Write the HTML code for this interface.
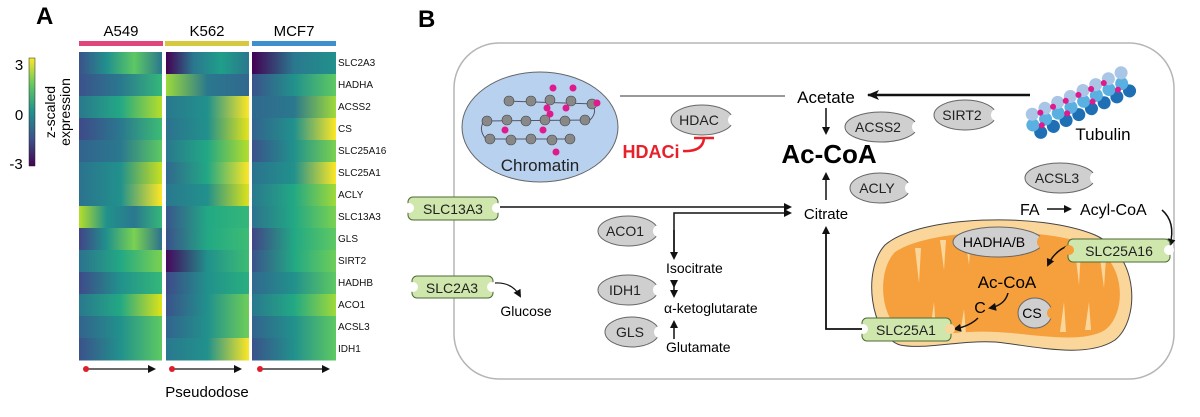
<!DOCTYPE html>
<html><head><meta charset="utf-8"><style>
html,body{margin:0;padding:0;background:#fff;}
svg{display:block;font-family:"Liberation Sans",Arial,sans-serif;}
</style></head><body>
<svg width="1200" height="417" viewBox="0 0 1200 417" xmlns="http://www.w3.org/2000/svg">
<defs>
<linearGradient id="cb" x1="0" y1="1" x2="0" y2="0">
<stop offset="0" stop-color="#440154"/><stop offset="0.25" stop-color="#3b528b"/><stop offset="0.5" stop-color="#21918c"/><stop offset="0.75" stop-color="#5ec962"/><stop offset="1" stop-color="#fde725"/></linearGradient>
<marker id="ah" markerWidth="8" markerHeight="8" refX="6" refY="4" orient="auto" markerUnits="userSpaceOnUse"><path d="M0,0 L8,4 L0,8 Z" fill="#111"/></marker>
<marker id="ahs" markerWidth="12" markerHeight="10" refX="11" refY="5" orient="auto" markerUnits="userSpaceOnUse"><path d="M0,0 L12,5 L0,10 L3,5 Z" fill="#111"/></marker>
</defs>
<text x="36" y="24" font-size="24" font-weight="bold">A</text>
<text x="418" y="27" font-size="24" font-weight="bold">B</text>
<text x="121" y="36" font-size="15" text-anchor="middle">A549</text>
<text x="207" y="36" font-size="15" text-anchor="middle">K562</text>
<text x="294" y="36" font-size="15" text-anchor="middle">MCF7</text>
<rect x="79" y="41" width="84" height="5" fill="#e0457b"/>
<rect x="165" y="41" width="84" height="5" fill="#d7c93d"/>
<rect x="252" y="41" width="84" height="5" fill="#3e8fce"/>
<rect x="29" y="58" width="6" height="108" fill="url(#cb)" stroke="#222" stroke-width="0.5"/>
<text x="19" y="70" font-size="15" text-anchor="middle">3</text>
<text x="19" y="120" font-size="15" text-anchor="middle">0</text>
<text x="16" y="169" font-size="15" text-anchor="middle">-3</text>
<text transform="translate(55,112) rotate(-90)" font-size="14" text-anchor="middle">z-scaled</text>
<text transform="translate(70,112) rotate(-90)" font-size="14" text-anchor="middle">expression</text>
<g id="hm"></g>
<g font-size="10" fill="#111">
<text x="338" y="66">SLC2A3</text><text x="338" y="88">HADHA</text><text x="338" y="110">ACSS2</text><text x="338" y="132">CS</text><text x="338" y="154">SLC25A16</text><text x="338" y="176">SLC25A1</text><text x="338" y="198">ACLY</text><text x="338" y="220">SLC13A3</text><text x="338" y="242">GLS</text><text x="338" y="264">SIRT2</text><text x="338" y="286">HADHB</text><text x="338" y="308">ACO1</text><text x="338" y="330">ACSL3</text><text x="338" y="352">IDH1</text>
</g>
<g stroke="#111" stroke-width="1.3">
<line x1="86" y1="369" x2="154" y2="369" marker-end="url(#ah)"/>
<line x1="172" y1="369" x2="240" y2="369" marker-end="url(#ah)"/>
<line x1="260" y1="369" x2="328" y2="369" marker-end="url(#ah)"/>
</g>
<circle cx="86" cy="369" r="3" fill="#e01e2a"/><circle cx="172" cy="369" r="3" fill="#e01e2a"/><circle cx="260" cy="369" r="3" fill="#e01e2a"/>
<text x="207" y="397" font-size="15" text-anchor="middle">Pseudodose</text>

<rect x="454" y="43" width="720" height="336" rx="45" fill="#fff" stroke="#b5b5b5" stroke-width="1.5"/>
<ellipse cx="540" cy="127" rx="78" ry="55" fill="#b7d1ef" stroke="#666" stroke-width="1"/>
<g fill="none" stroke="#556" stroke-width="1"><path d="M505,101 L595,104 M484,121 L590,120 M486,139 L575,139 M484,121 Q478,130 486,139 M592,104 Q598,112 590,120"/></g>
<g fill="#888" stroke="#444" stroke-width="0.6">
<circle cx="509" cy="101" r="5"/><circle cx="531" cy="101" r="5"/><circle cx="550" cy="100" r="5"/><circle cx="571" cy="101" r="5"/><circle cx="592" cy="104" r="5"/>
<circle cx="487" cy="121" r="5"/><circle cx="507" cy="120" r="5"/><circle cx="526" cy="121" r="5"/><circle cx="545" cy="120" r="5"/><circle cx="565" cy="121" r="5"/><circle cx="585" cy="120" r="5"/>
<circle cx="490" cy="139" r="5"/><circle cx="511" cy="140" r="5"/><circle cx="531" cy="139" r="5"/><circle cx="552" cy="140" r="5"/><circle cx="570" cy="139" r="5"/>
</g>
<g fill="#e0198c"><circle cx="553" cy="88" r="3.5"/><circle cx="573" cy="88" r="3.5"/><circle cx="597" cy="103" r="3.5"/><circle cx="547" cy="108" r="3.5"/><circle cx="566" cy="108" r="3.5"/><circle cx="550" cy="114" r="3.5"/><circle cx="505" cy="130" r="3.5"/><circle cx="543" cy="130" r="3.5"/><circle cx="556" cy="152" r="3.5"/></g>
<text x="540" y="171" font-size="17" text-anchor="middle" fill="#222">Chromatin</text>
<line x1="620" y1="96" x2="785" y2="96" stroke="#333" stroke-width="1"/>
<text x="826" y="103" font-size="17" text-anchor="middle">Acetate</text>
<line x1="1030" y1="95" x2="868" y2="95" stroke="#111" stroke-width="2.5" marker-end="url(#ahs)"/>
<line x1="826" y1="108" x2="826" y2="133" stroke="#111" stroke-width="1.5" marker-end="url(#ah)"/>
<text x="829" y="163" font-size="26" font-weight="bold" text-anchor="middle">Ac-CoA</text>
<line x1="826" y1="200" x2="826" y2="174" stroke="#111" stroke-width="1.5" marker-end="url(#ah)"/>
<text x="826" y="219" font-size="15" text-anchor="middle">Citrate</text>
<text x="651" y="158" font-size="18" font-weight="bold" fill="#e8202a" text-anchor="middle">HDACi</text>
<path d="M683,151 Q703,152 704,138 M694,138 L714,138" stroke="#e8202a" stroke-width="2.5" fill="none"/>
<g font-size="14" fill="#222" text-anchor="middle">
<ellipse cx="702" cy="120" rx="31" ry="15" fill="#cfcfcf" stroke="#666"/><circle cx="734" cy="120" r="6" fill="#fff"/><text x="699" y="125">HDAC</text>
<ellipse cx="881" cy="127" rx="36" ry="15" fill="#cfcfcf" stroke="#666"/><circle cx="918" cy="127" r="6" fill="#fff"/><text x="878" y="132">ACSS2</text>
<ellipse cx="965" cy="115" rx="31" ry="15" fill="#cfcfcf" stroke="#666"/><circle cx="997" cy="115" r="6" fill="#fff"/><text x="962" y="120">SIRT2</text>
<ellipse cx="880" cy="188" rx="30" ry="15" fill="#cfcfcf" stroke="#666"/><circle cx="911" cy="188" r="6" fill="#fff"/><text x="877" y="193">ACLY</text>
<ellipse cx="1060" cy="178" rx="35" ry="15" fill="#cfcfcf" stroke="#666"/><circle cx="1096" cy="178" r="6" fill="#fff"/><text x="1057" y="183">ACSL3</text>
<ellipse cx="628" cy="231" rx="30" ry="15" fill="#cfcfcf" stroke="#666"/><circle cx="659" cy="231" r="6" fill="#fff"/><text x="625" y="236">ACO1</text>
<ellipse cx="628" cy="290" rx="30" ry="15" fill="#cfcfcf" stroke="#666"/><circle cx="659" cy="290" r="6" fill="#fff"/><text x="625" y="295">IDH1</text>
<ellipse cx="632" cy="332" rx="27" ry="15" fill="#cfcfcf" stroke="#666"/><circle cx="660" cy="332" r="6" fill="#fff"/><text x="630" y="337">GLS</text>
</g>
<g transform="translate(1080,103) rotate(-25)">
<g fill="#1f6fb5"><circle cx="-48" cy="10" r="6.5"/><circle cx="-34" cy="10" r="6.5"/><circle cx="-20" cy="10" r="6.5"/><circle cx="-6" cy="10" r="6.5"/><circle cx="8" cy="10" r="6.5"/><circle cx="22" cy="10" r="6.5"/><circle cx="36" cy="10" r="6.5"/><circle cx="50" cy="10" r="6.5"/></g>
<g fill="#5ab0e0"><circle cx="-52" cy="0" r="6.5"/><circle cx="-38" cy="0" r="6.5"/><circle cx="-24" cy="0" r="6.5"/><circle cx="-10" cy="0" r="6.5"/><circle cx="4" cy="0" r="6.5"/><circle cx="18" cy="0" r="6.5"/><circle cx="32" cy="0" r="6.5"/><circle cx="46" cy="0" r="6.5"/></g>
<g fill="#a9c6e6"><circle cx="-48" cy="-10" r="6.5"/><circle cx="-34" cy="-10" r="6.5"/><circle cx="-20" cy="-10" r="6.5"/><circle cx="-6" cy="-10" r="6.5"/><circle cx="8" cy="-10" r="6.5"/><circle cx="22" cy="-10" r="6.5"/><circle cx="36" cy="-10" r="6.5"/><circle cx="50" cy="-10" r="6.5"/></g>
<g fill="#e0198c"><circle cx="-40" cy="-8" r="3"/><circle cx="-26" cy="-8" r="3"/><circle cx="-12" cy="-8" r="3"/><circle cx="2" cy="-8" r="3"/><circle cx="16" cy="-8" r="3"/><circle cx="30" cy="-8" r="3"/><circle cx="-44" cy="4" r="3"/><circle cx="-16" cy="4" r="3"/><circle cx="12" cy="4" r="3"/><circle cx="40" cy="4" r="3"/></g>
</g>
<text x="1103" y="140" font-size="17" text-anchor="middle">Tubulin</text>
<text x="1020" y="215" font-size="16">FA</text>
<line x1="1047" y1="209" x2="1070" y2="209" stroke="#111" stroke-width="1.5" marker-end="url(#ah)"/>
<text x="1080" y="215" font-size="16">Acyl-CoA</text>
<path d="M1162,210 Q1176,222 1170,245" stroke="#111" stroke-width="1.5" fill="none" marker-end="url(#ah)"/>
<path d="M885,245 C920,215 1040,212 1095,235 C1140,255 1140,320 1115,340 C1085,360 1030,345 995,342 C960,340 925,350 900,345 C870,335 862,270 885,245 Z" fill="#fbd69b" stroke="#444" stroke-width="1"/>
<path d="M895,252 C930,228 1040,226 1090,245 C1128,262 1126,315 1105,330 C1080,345 1030,333 995,332 C960,330 930,338 905,333 C880,322 876,272 895,252 Z" fill="#f6a03d"/>
<g fill="#fbd69b"><path d="M915,248 l6,0 l-2,35 z"/><path d="M940,240 l6,0 l-2,30 z"/><path d="M965,237 l6,0 l-2,28 z"/><path d="M1075,250 l6,0 l-2,35 z"/><path d="M1100,258 l6,0 l-2,30 z"/><path d="M930,332 l6,0 l-2,-30 z"/><path d="M1060,332 l6,0 l-2,-30 z"/><path d="M1085,330 l6,0 l-2,-28 z"/><path d="M960,334 l6,0 l-2,-25 z"/></g>
<ellipse cx="998" cy="242" rx="45" ry="15" fill="#cfcfcf" stroke="#666"/><circle cx="1044" cy="242" r="7" fill="#f6a03d"/>
<text x="994" y="247" font-size="14" text-anchor="middle">HADHA/B</text>
<ellipse cx="1035" cy="313" rx="17" ry="15" fill="#cfcfcf" stroke="#666"/><circle cx="1053" cy="313" r="6" fill="#f6a03d"/>
<text x="1032" y="318" font-size="14" text-anchor="middle">CS</text>
<text x="1007" y="288" font-size="17" text-anchor="middle">Ac-CoA</text>
<text x="980" y="313" font-size="16" text-anchor="middle">C</text>
<path d="M1070,245 Q1055,250 1048,265" stroke="#111" stroke-width="1.5" fill="none" marker-end="url(#ah)"/>
<path d="M1008,293 Q1005,305 990,308" stroke="#111" stroke-width="1.5" fill="none" marker-end="url(#ah)"/>
<path d="M978,318 Q970,326 955,329" stroke="#111" stroke-width="1.5" fill="none" marker-end="url(#ah)"/>
<g font-size="14" fill="#222" text-anchor="middle" stroke-width="1">
<rect x="408" y="197" width="90" height="23" rx="5" fill="#cfe6ad" stroke="#4d6b36"/><circle cx="409" cy="208" r="5" fill="#fff"/><circle cx="497" cy="208" r="5" fill="#fff"/><text x="453" y="214">SLC13A3</text>
<rect x="412" y="276" width="81" height="22" rx="5" fill="#cfe6ad" stroke="#4d6b36"/><circle cx="413" cy="287" r="5" fill="#fff"/><circle cx="492" cy="287" r="5" fill="#fff"/><text x="452" y="293">SLC2A3</text>
<rect x="1068" y="239" width="102" height="23" rx="5" fill="#cfe6ad" stroke="#4d6b36"/><circle cx="1069" cy="250" r="5" fill="#f6a03d"/><circle cx="1169" cy="250" r="5" fill="#fff"/><text x="1119" y="256">SLC25A16</text>
<rect x="862" y="318" width="89" height="23" rx="5" fill="#cfe6ad" stroke="#4d6b36"/><circle cx="863" cy="329" r="5" fill="#fff"/><circle cx="950" cy="329" r="5" fill="#fbd69b"/><text x="906" y="335">SLC25A1</text>
</g>
<line x1="500" y1="207" x2="790" y2="207" stroke="#111" stroke-width="1.5" marker-end="url(#ah)"/>
<path d="M674,258 L674,213 L790,213" stroke="#111" stroke-width="1.5" fill="none" marker-end="url(#ah)"/>
<line x1="674" y1="230" x2="674" y2="258" stroke="#111" stroke-width="1.5" marker-end="url(#ah)"/>
<path d="M862,329 L826,329 L826,228" stroke="#111" stroke-width="1.8" fill="none" marker-end="url(#ah)"/>
<path d="M495,283 Q512,282 520,296" stroke="#111" stroke-width="1.2" fill="none" marker-end="url(#ah)"/>
<text x="526" y="316" font-size="14" text-anchor="middle">Glucose</text>
<text x="666" y="273" font-size="14">Isocitrate</text>
<line x1="674" y1="286" x2="674" y2="296" stroke="#111" stroke-width="1.5" marker-end="url(#ah)" marker-start="url(#ah)"/>
<text x="664" y="313" font-size="14">α-ketoglutarate</text>
<line x1="674" y1="339" x2="674" y2="322" stroke="#111" stroke-width="1.5" marker-end="url(#ah)"/>
<text x="666" y="352" font-size="14">Glutamate</text>
</svg>
<script>
var rows={
A:[["#3b528b","#21908d","#5dc863","#2a788e"],["#3b528b","#2a788e","#35b779"],["#2a788e","#22a884","#b5de2b"],["#3e4a89","#2a788e","#3dbc74"],["#33638d","#2a788e","#5ec962"],["#2c728e","#21918c","#c8e020"],["#2c728e","#21918c","#fde725"],["#b5de2b","#21918c","#2a788e","#35b779"],["#414487","#21918c","#7ad151","#2c728e"],["#2c728e","#22a884","#7ad151"],["#3e4a89","#21918c","#35b779"],["#2a788e","#22a884","#dde318"],["#33638d","#21918c","#5ec962"],["#3b528b","#21918c","#5ec962"]],
K:[["#440154","#2a788e","#1f9e89","#2a788e"],["#9bd93c","#2a788e","#31688e"],["#2a788e","#21918c","#fde725"],["#2c728e","#21918c","#e5e419"],["#2a788e","#22a884","#b5de2b"],["#31688e","#22a884","#fde725"],["#2a788e","#21918c","#dde318"],["#39568c","#22a884","#35b779"],["#3b528b","#22a884","#3dbc74"],["#46085c","#21918c","#3dbc74"],["#3e4a89","#21918c","#29af7f"],["#3b528b","#21918c","#6ece58"],["#33638d","#21918c","#6ece58"],["#2a788e","#21918c","#fde725"]],
M:[["#440154","#2a788e","#21918c"],["#3b528b","#21918c","#5ec962"],["#31688e","#2a788e","#a0da39"],["#33638d","#21918c","#fde725"],["#3b528b","#21918c","#7ad151"],["#2c728e","#21918c","#fde725"],["#2a788e","#22a884","#a0da39"],["#2c728e","#22a884","#7ad151"],["#414487","#22a884","#5ec962"],["#3b528b","#22a884","#6ece58"],["#31688e","#21918c","#5ec962"],["#2a788e","#22a884","#a0da39"],["#33638d","#21918c","#5ec962"],["#3b528b","#21918c","#5ec962"]]};
var xs={A:79,K:166,M:252},ns="http://www.w3.org/2000/svg",svg=document.querySelector("svg"),defs=svg.querySelector("defs"),g=document.getElementById("hm"),id=0;
for(var k in rows){rows[k].forEach(function(c,i){var lg=document.createElementNS(ns,"linearGradient");lg.setAttribute("id","g"+id);
c.forEach(function(col,j){var s=document.createElementNS(ns,"stop");s.setAttribute("offset",j/(c.length-1));s.setAttribute("stop-color",col);lg.appendChild(s);});
defs.appendChild(lg);var r=document.createElementNS(ns,"rect");r.setAttribute("x",xs[k]);r.setAttribute("y",52+i*22);r.setAttribute("width",k=="M"?84:83);r.setAttribute("height",22.5);r.setAttribute("fill","url(#g"+id+")");g.appendChild(r);id++;});}
</script>
</body></html>
